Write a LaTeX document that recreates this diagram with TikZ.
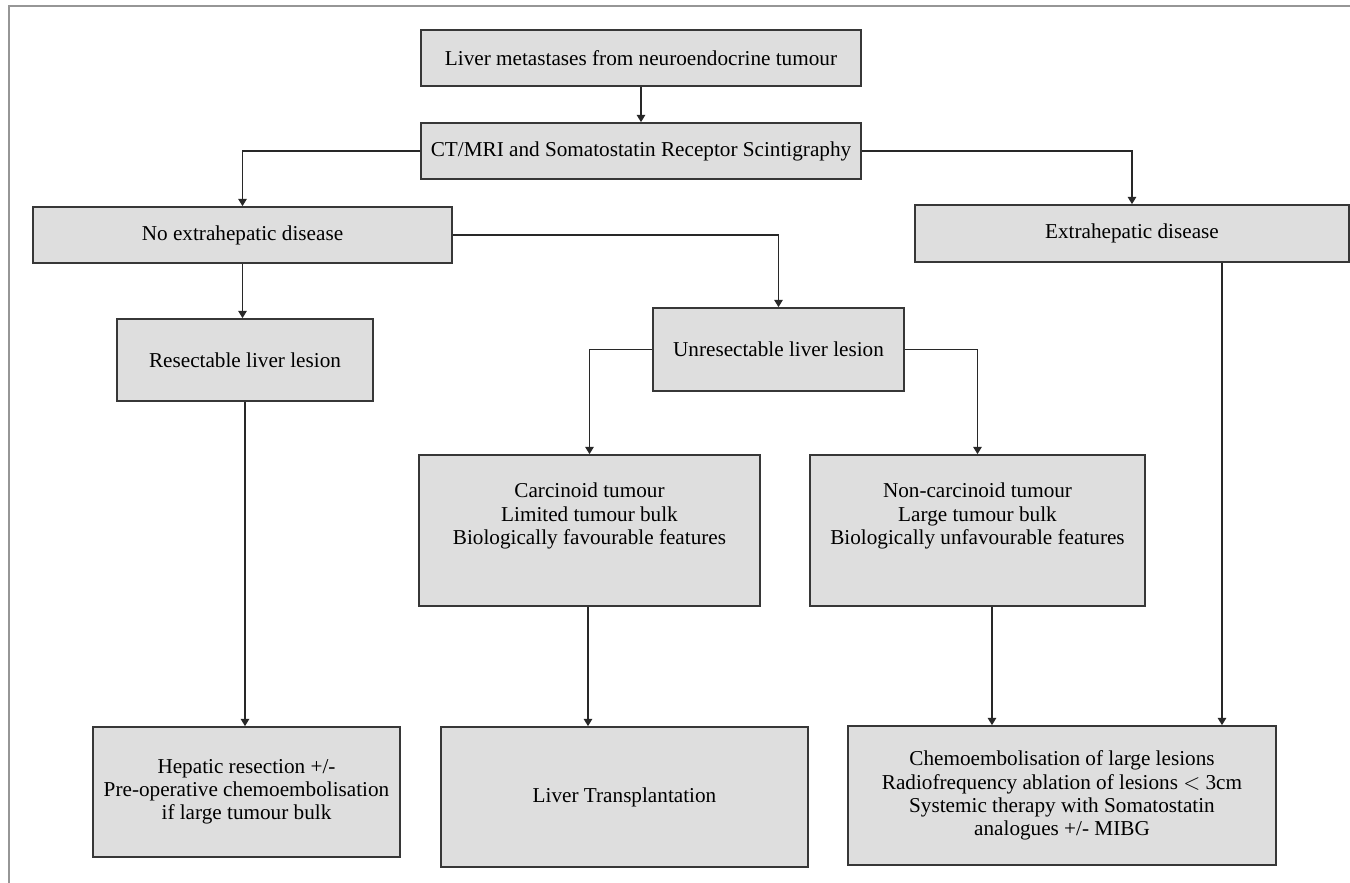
\documentclass[tikz,border=0pt]{standalone}
\usepackage{fontspec}
\setmainfont{Liberation Serif}
\usetikzlibrary{arrows.meta}
\definecolor{boxfill}{RGB}{222,222,222}
\definecolor{boxline}{RGB}{55,55,55}
\definecolor{conn}{RGB}{40,40,40}
\definecolor{frame}{RGB}{150,150,150}
\tikzset{
  flowbox/.style={draw=boxline, line width=0.85pt, fill=boxfill, inner sep=0pt, align=center,
    font=\fontsize{10.6}{11.6}\selectfont, text=black},
  boxtext/.style={inner sep=0pt, align=center, font=\fontsize{10.6}{11.6}\selectfont, text=black},
  arr/.style={draw=conn, line width=0.65pt, -{Triangle[length=3.6pt,width=4.2pt]}},
  plain/.style={draw=conn, line width=0.65pt}
}
\begin{document}
\begin{tikzpicture}[x=0.5pt,y=-0.5pt]
\useasboundingbox (0,0) rectangle (1350,883);
\fill[white] (0,0) rectangle (1350,883);
% outer frame (right and bottom edges lie outside the picture)
\draw[frame, line width=1.1pt] (9,900) -- (9,6) -- (1360,6);

% boxes
\node[flowbox, minimum width=220pt, minimum height=28pt] (top) at (641,58) {Liver metastases from neuroendocrine tumour};
\node[flowbox, minimum width=220pt, minimum height=28pt] (ct) at (641,151) {CT/MRI and Somatostatin Receptor Scintigraphy};
\node[flowbox, minimum width=209.5pt, minimum height=28pt] (noext) at (242.5,235) {No extrahepatic disease};
\node[flowbox, minimum width=217pt, minimum height=28.5pt] (ext) at (1132,233.5) {Extrahepatic disease};
\node[flowbox, minimum width=128pt, minimum height=41pt] (res) at (245,360) {Resectable liver lesion};
\node[flowbox, minimum width=125.5pt, minimum height=41.5pt] (unres) at (778.5,349.5) {Unresectable liver lesion};
\node[flowbox, minimum width=170.5pt, minimum height=75.5pt] (carc) at (589.5,530.5) {};
\node[boxtext] (carct) at (589.5,516) {Carcinoid tumour\\Limited tumour bulk\\Biologically favourable features};
\node[flowbox, minimum width=167.5pt, minimum height=75.5pt] (noncarc) at (977.5,530.5) {};
\node[boxtext] (noncarct) at (977.5,516) {Non-carcinoid tumour\\Large tumour bulk\\Biologically unfavourable features};
\node[flowbox, minimum width=153.5pt, minimum height=65pt] (hep) at (246.5,792) {Hepatic resection +/-\\Pre-operative chemoembolisation\\if large tumour bulk};
\node[flowbox, minimum width=183.5pt, minimum height=70pt] (lt) at (624.5,797) {Liver Transplantation};
\node[flowbox, minimum width=214pt, minimum height=69.5pt] (chemo) at (1062,795.5) {Chemoembolisation of large lesions\\Radiofrequency ablation of lesions $<$ 3cm\\Systemic therapy with Somatostatin\\analogues +/- MIBG};

% guide coordinates for connector columns
\coordinate (xnc) at (992,0);
\coordinate (xex) at (1222,0);
\coordinate (xcarc) at (588,0);

% connectors
\draw[arr] (top.south) -- (ct.north);
\draw[arr] (ct.west) -| (noext.north);
\draw[arr] (ct.east) -| (ext.north);
\draw[arr] (noext.south) -- (noext.south |- res.north);
\draw[arr] (noext.east) -| (unres.north);
\draw[arr] (res.south) -- (res.south |- hep.north);
\draw[arr] (unres.west) -| (carc.north);
\draw[arr] (unres.east) -| (noncarc.north);
\draw[arr] (carc.south -| xcarc) -- (xcarc |- lt.north);
\draw[arr] (noncarc.south -| xnc) -- (xnc |- chemo.north);
\draw[arr] (ext.south -| xex) -- (xex |- chemo.north);
\end{tikzpicture}
\end{document}
